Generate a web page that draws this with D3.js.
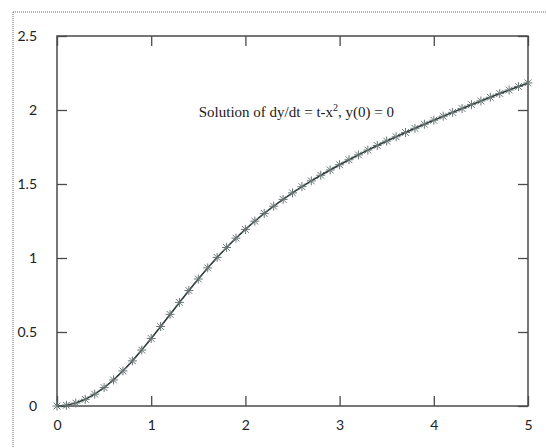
<!DOCTYPE html>
<html>
<head>
<meta charset="utf-8">
<script src="https://cdn.jsdelivr.net/npm/d3@7"></script>
<style>
  body { margin: 0; background: #ffffff; }
</style>
</head>
<body>
<div id="chart"></div>
<script>
// t values, step 0.1 from 0 to 5
var tValues = [0, 0.1, 0.2, 0.3, 0.4, 0.5, 0.6, 0.7, 0.8, 0.9,
    1.0, 1.1, 1.2, 1.3, 1.4, 1.5, 1.6, 1.7, 1.8, 1.9,
    2.0, 2.1, 2.2, 2.3, 2.4, 2.5, 2.6, 2.7, 2.8, 2.9,
    3.0, 3.1, 3.2, 3.3, 3.4, 3.5, 3.6, 3.7, 3.8, 3.9,
    4.0, 4.1, 4.2, 4.3, 4.4, 4.5, 4.6, 4.7, 4.8, 4.9, 5.0];

// y
var yValues = [0, 0.005, 0.02, 0.045, 0.08, 0.124, 0.176, 0.237, 0.305, 0.378,
    0.456, 0.537, 0.619, 0.700, 0.780, 0.858, 0.933, 1.004, 1.071, 1.134,
    1.193, 1.249, 1.301, 1.350, 1.396, 1.440, 1.482, 1.521, 1.559, 1.595,
    1.630, 1.664, 1.697, 1.729, 1.760, 1.790, 1.819, 1.848, 1.876, 1.904,
    1.931, 1.958, 1.984, 2.010, 2.036, 2.061, 2.086, 2.111, 2.135, 2.159, 2.183];

var xTicks = [0, 1, 2, 3, 4, 5];
var yTicks = [0, 0.5, 1, 1.5, 2, 2.5];
var yTickLabels = ['0', '0.5', '1', '1.5', '2', '2.5'];

var fullWidth = 546;
var fullHeight = 448;
var frameColor = '#4a4a4a';
var lineColor = '#2e3b3b';
var markColor = '#6a7676';
var tickFont = 'Lato, "DejaVu Sans", sans-serif';
var titleFont = '"Liberation Serif", "DejaVu Serif", serif';
var tickLength = 10;

window.onload = function() {
    render();
};

function render() {
    var svg = d3.select('#chart').append('svg')
        .attr('width', fullWidth)
        .attr('height', fullHeight);

    // scanned page border (dotted)
    svg.append('line')
        .attr('x1', 13).attr('y1', 12).attr('x2', 13).attr('y2', fullHeight)
        .attr('stroke', '#9a9a9a').attr('stroke-width', 1.5)
        .attr('stroke-dasharray', '1 1');
    svg.append('line')
        .attr('x1', 13).attr('y1', 12).attr('x2', fullWidth).attr('y2', 12)
        .attr('stroke', '#9a9a9a').attr('stroke-width', 1.5)
        .attr('stroke-dasharray', '1 1');

    var left = 57, right = 528, top = 36, bottom = 406;

    var x = d3.scaleLinear().domain([0, 5]).range([left, right]);
    var y = d3.scaleLinear().domain([0, 2.5]).range([bottom, top]);

    // frame
    svg.append('rect')
        .attr('x', left).attr('y', top)
        .attr('width', right - left).attr('height', bottom - top)
        .attr('fill', 'none')
        .attr('stroke', frameColor)
        .attr('stroke-width', 1.5);

    // inward ticks on all four sides
    var bottomAxis = svg.append('g')
        .attr('transform', 'translate(0,' + bottom + ')')
        .call(d3.axisBottom(x).tickValues(xTicks).tickSizeInner(-tickLength).tickSizeOuter(0).tickPadding(14).tickFormat(d3.format('d')));
    var topAxis = svg.append('g')
        .attr('transform', 'translate(0,' + top + ')')
        .call(d3.axisTop(x).tickValues(xTicks).tickSizeInner(-tickLength).tickSizeOuter(0).tickFormat(''));
    var leftAxis = svg.append('g')
        .attr('transform', 'translate(' + left + ',0)')
        .call(d3.axisLeft(y).tickValues(yTicks).tickSizeInner(-tickLength).tickSizeOuter(0).tickPadding(20)
            .tickFormat(function(d, i) { return yTickLabels[i]; }));
    var rightAxis = svg.append('g')
        .attr('transform', 'translate(' + right + ',0)')
        .call(d3.axisRight(y).tickValues(yTicks).tickSizeInner(-tickLength).tickSizeOuter(0).tickFormat(''));

    [bottomAxis, topAxis, leftAxis, rightAxis].forEach(function(g) {
        g.select('.domain').remove();
        g.selectAll('line').attr('stroke', frameColor).attr('stroke-width', 1.3);
        g.selectAll('text')
            .style('font-family', tickFont)
            .style('font-size', '14px')
            .attr('fill', '#222');
    });

    // title inside the plot
    var title = svg.append('text')
        .attr('x', x(1.505))
        .attr('y', y(1.955))
        .style('font-family', titleFont)
        .style('font-size', '15px')
        .attr('fill', '#1a1a1a');
    title.append('tspan').text('Solution of dy/dt = t-x');
    title.append('tspan').attr('dy', -6).style('font-size', '10px').text('2');
    title.append('tspan').attr('dy', 6).text(', y(0) = 0');

    var points = tValues.map(function(t, i) { return [t, yValues[i]]; });

    var line = d3.line()
        .x(function(d) { return x(d[0]); })
        .y(function(d) { return y(d[1]); });

    svg.append('path')
        .datum(points)
        .attr('d', line)
        .attr('fill', 'none')
        .attr('stroke', lineColor)
        .attr('stroke-width', 1.6);

    // asterisk markers (+ overlaid with x)
    var s = 4.5;
    var starPath = 'M' + (-s) + ',0H' + s + 'M0,' + (-s) + 'V' + s +
        'M' + (-s * 0.75) + ',' + (-s * 0.75) + 'L' + (s * 0.75) + ',' + (s * 0.75) +
        'M' + (-s * 0.75) + ',' + (s * 0.75) + 'L' + (s * 0.75) + ',' + (-s * 0.75);

    svg.append('g').selectAll('path')
        .data(points)
        .enter().append('path')
        .attr('transform', function(d) { return 'translate(' + x(d[0]) + ',' + y(d[1]) + ')'; })
        .attr('d', starPath)
        .attr('fill', 'none')
        .attr('stroke', markColor)
        .attr('stroke-width', 1);
}
</script>
</body>
</html>
